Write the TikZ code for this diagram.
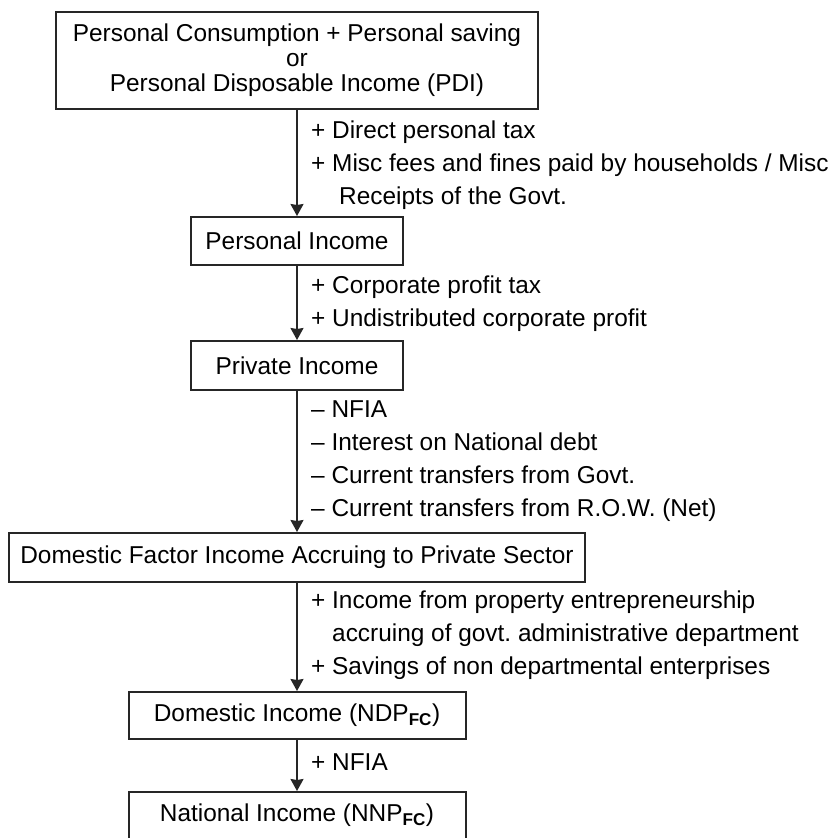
\documentclass[tikz,border=0pt]{standalone}
\usepackage{fontspec}
\setmainfont{Liberation Sans}
\usetikzlibrary{%
    arrows.meta,
    positioning
}
\frenchspacing

\begin{document}
\begin{tikzpicture}[x=1pt, y=-1pt,
    box/.style={draw=black!85, line width=2pt, fill=white, inner sep=0pt,
        align=center, font=\fontsize{24.4}{25}\selectfont},
    note/.style={anchor=north west, inner sep=0pt, align=left,
        font=\fontsize{24.4}{32.7}\selectfont},
    flow/.style={-{Stealth[length=12pt,width=13pt,inset=1pt]},
        line width=1.7pt, draw=black!85}]
    \useasboundingbox (0,0) rectangle (837,838);

    \node[box, minimum width=482pt, minimum height=97pt] (pdi) at (297,60.5)
        {Personal Consumption + Personal saving\\or\\Personal Disposable Income (PDI)};
    \node[box, minimum width=212pt, minimum height=48pt] (pi)  at (297,241)   {Personal Income};
    \node[box, minimum width=212pt, minimum height=49pt] (pvi) at (297,365.5) {Private Income};
    \node[box, minimum width=576pt, minimum height=49pt] (dfi) at (297,557.5)
        {Domestic Factor Income Accruing to Private Sector};
    \node[box, minimum width=337pt, minimum height=47pt] (ndp) at (297,715.5)
        {Domestic Income (NDP\textsubscript{\textbf{FC}})};
    \node[box, minimum width=337pt, minimum height=47pt] (nnp) at (297,815.5)
        {National Income (NNP\textsubscript{\textbf{FC}})};

    \foreach \Source/\Target in {pdi/pi, pi/pvi, pvi/dfi, dfi/ndp, ndp/nnp}
        \draw[flow] (\Source) to (\Target);

    \node[note] (pdi-pi) at (311,121)
        {+ Direct personal tax\\
         + Misc fees and fines paid by households / Misc\\
         \hspace*{28pt}Receipts of the Govt.};
    \node[note] (pi-pvi) at (311,276)
        {+ Corporate profit tax\\
         + Undistributed corporate profit};
    \node[note] (pvi-dfi) at (311,401)
        {\textendash{} NFIA\\
         \textendash{} Interest on National debt\\
         \textendash{} Current transfers from Govt.\\
         \textendash{} Current transfers from R.O.W. (Net)};
    \node[note] (dfi-ndp) at (311,591)
        {+ Income from property entrepreneurship\\
         \phantom{+ }accruing of govt. administrative department\\
         + Savings of non departmental enterprises};
    \node[note] (ndp-nnp) at (311,754) {+ NFIA};
\end{tikzpicture}
\end{document}
